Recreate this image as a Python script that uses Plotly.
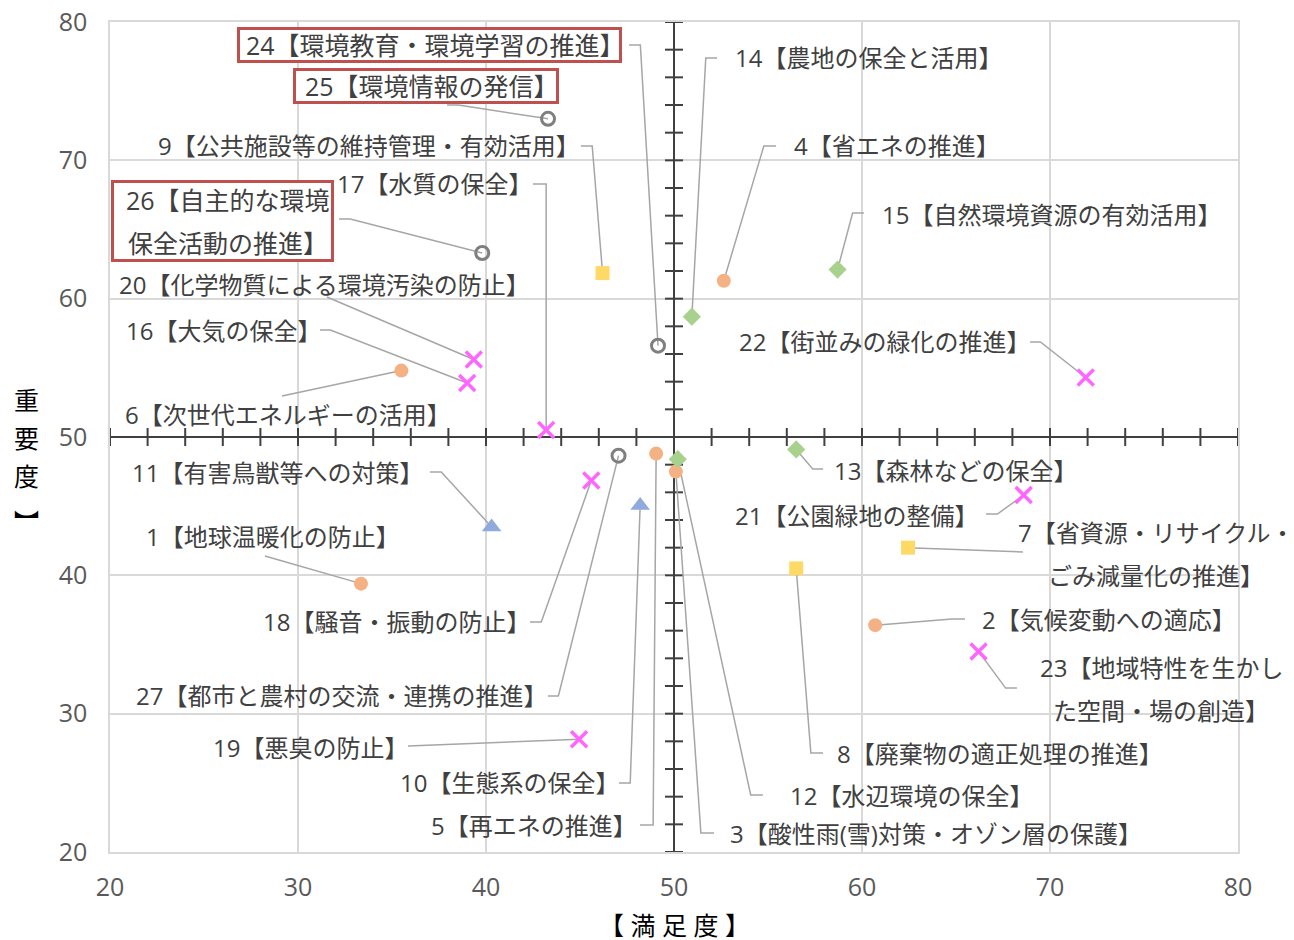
import plotly.graph_objects as go

# 施策番号と名称
item_no = list(range(1, 28))
item_name = [
    "地球温暖化の防止", "気候変動への適応", "酸性雨(雪)対策・オゾン層の保護",
    "省エネの推進", "再エネの推進", "次世代エネルギーの活用",
    "省資源・リサイクル・\nごみ減量化の推進", "廃棄物の適正処理の推進",
    "公共施設等の維持管理・有効活用", "生態系の保全", "有害鳥獣等への対策",
    "水辺環境の保全", "森林などの保全", "農地の保全と活用", "自然環境資源の有効活用",
    "大気の保全", "水質の保全", "騒音・振動の防止", "悪臭の防止",
    "化学物質による環境汚染の防止", "公園緑地の整備", "街並みの緑化の推進",
    "地域特性を生かし\nた空間・場の創造", "環境教育・環境学習の推進", "環境情報の発信",
    "自主的な環境\n保全活動の推進", "都市と農村の交流・連携の推進",
]

# 満足度 (x) / 重要度 (y)
satisfaction = [33.35, 60.7, 50.1, 52.65, 49.05, 35.5, 62.45, 56.5, 46.2, 48.2,
                40.3, 50.2, 56.5, 50.95, 58.7, 39.0, 43.2, 45.6, 44.95, 39.35,
                68.6, 71.9, 66.2, 49.15, 43.3, 39.8, 47.05]
importance = [39.4, 36.4, 47.5, 61.3, 48.8, 54.8, 42.0, 40.5, 61.85, 45.05,
              43.5, 48.4, 49.1, 58.7, 62.1, 53.9, 50.5, 46.85, 28.15, 55.6,
              45.8, 54.3, 34.5, 56.6, 73.0, 63.3, 48.65]

# 分野 (0:エネルギー 1:資源 2:生態系 3:自然 4:生活環境 5:参加)
category = [0, 0, 0, 0, 0, 0, 1, 1, 1, 2, 2, 3, 3, 3, 3,
            4, 4, 4, 4, 4, 4, 4, 4, 5, 5, 5, 5]

# ラベル位置と引き出し線
lab_x = [34.89, 66.28, 52.87, 56.28, 47.5, 20.69, 75.32, 58.56, 44.47, 46.54,
         36.12, 56.06, 58.4, 53.14, 60.96, 30.69, 41.91, 41.81, 35.32, 20.37,
         65.64, 68.4, 75.6, 37.02, 36.81, 25.96, 42.71]
lab_y = [42.84, 36.84, 21.37, 71.04, 21.95, 51.66, 41.54, 27.15, 71.04, 24.99,
         47.47, 24.12, 47.61, 77.4, 66.05, 57.73, 68.29, 36.63, 27.59, 61.06,
         44.36, 56.87, 31.75, 78.34, 75.37, 65.61, 31.28]
lab_anchor = ["right", "left", "left", "left", "right", "left", "center", "left",
              "right", "right", "right", "left", "left", "left", "left", "right",
              "right", "right", "right", "left", "right", "right", "center",
              "center", "center", "center", "right"]
lead_x = [28.24, 65.48, 52.13, 55.43, 48.19, 29.15, 68.56, 57.93, 45.05, 47.07,
          37.02, 54.73, 57.93, 52.29, 60.1, 31.17, 42.5, 42.34, 35.85, 31.54,
          66.6, 68.94, 68.24, 47.61, 37.93, 32.18, 43.3]
lead_y = [41.4, 36.84, 21.37, 71.04, 21.95, 52.96, 41.69, 27.15, 71.04, 24.99,
          47.47, 24.12, 47.69, 77.4, 66.19, 57.73, 68.29, 36.63, 27.66, 60.12,
          44.43, 56.87, 31.85, 78.34, 74.0, 65.76, 31.28]
stub_dx = [0, -0.7, -0.7, -0.65, 0.7, 0, 0, -0.65, 0.6, 0.6,
           0.6, -0.65, -0.55, -0.6, -0.6, 0.55, 0.7, 0.6, 0, 0,
           0.6, 0.55, -0.6, 0.6, 0.6, 0.6, 0.55]
boxed = {24: (385, 36), 25: (266, 36), 26: (223, 82)}

styles = [
    dict(symbol="circle", color="#F4B183", size=14),
    dict(symbol="square", color="#FFD966", size=14),
    dict(symbol="triangle-up", color="#8FAADC", size=17),
    dict(symbol="diamond", color="#A9D18E", size=14),
    dict(symbol="x-thin", color="#FF66FF", size=16),
    dict(symbol="circle-open", color="#7F7F7F", size=13),
]

FONT = "Open Sans, Noto Sans CJK JP, sans-serif"
fig = go.Figure()

# 引き出し線
lx, ly = [], []
for i in range(len(item_no)):
    lx += [lead_x[i], lead_x[i] + stub_dx[i], satisfaction[i], None]
    ly += [lead_y[i], lead_y[i], importance[i], None]
fig.add_trace(go.Scatter(x=lx, y=ly, mode="lines", hoverinfo="skip",
                         line=dict(color="#A6A6A6", width=1.5), showlegend=False))

for c, st in enumerate(styles):
    idx = [i for i in range(len(item_no)) if category[i] == c]
    mk = dict(symbol=st["symbol"], color=st["color"], size=st["size"])
    if st["symbol"] in ("x-thin", "circle-open"):
        mk["line"] = dict(color=st["color"], width=3.5 if c == 4 else 3)
    fig.add_trace(go.Scatter(
        x=[satisfaction[i] for i in idx], y=[importance[i] for i in idx],
        mode="markers", marker=mk, showlegend=False,
        text=[f"{item_no[i]}【{item_name[i]}】" for i in idx],
        hovertemplate="%{text}<br>満足度: %{x}<br>重要度: %{y}<extra></extra>"))

# 中央の軸と目盛り
shapes = [
    dict(type="line", xref="x", yref="y", x0=50, x1=50, y0=20, y1=80,
         line=dict(color="#404040", width=2), layer="between"),
    dict(type="line", xref="x", yref="y", x0=20, x1=80, y0=50, y1=50,
         line=dict(color="#404040", width=2), layer="between"),
]
for t in range(20, 81, 2):
    shapes.append(dict(type="line", xref="x", yref="y", x0=t, x1=t,
                       ysizemode="pixel", yanchor=50, y0=-9, y1=9,
                       line=dict(color="#404040", width=2), layer="between"))
    shapes.append(dict(type="line", xref="x", yref="y", y0=t, y1=t,
                       xsizemode="pixel", xanchor=50, x0=-9, x1=9,
                       line=dict(color="#404040", width=2), layer="between"))

# 全角括弧の余白分の補正
shift_for = {"right": 12, "center": 6, "left": 0}

annotations = []
for i in range(len(item_no)):
    no = item_no[i]
    lines = f"{no}【{item_name[i]}】".split("\n")
    size = 24
    if no in boxed:
        size = 25
        w, h = boxed[no]
        annotations.append(dict(x=lab_x[i], y=lab_y[i], xref="x", yref="y",
                                text=" ", showarrow=False, width=w - 8, height=h - 8,
                                bgcolor="white", bordercolor="#C0504D", borderwidth=3,
                                xanchor="center", yanchor="middle"))
    n = len(lines)
    for k, s in enumerate(lines):
        annotations.append(dict(x=lab_x[i], y=lab_y[i], xref="x", yref="y",
                                text=s, showarrow=False, xanchor=lab_anchor[i],
                                xshift=shift_for[lab_anchor[i]],
                                yanchor="middle", yshift=((n - 1) / 2 - k) * 43,
                                font=dict(family=FONT, size=size, color="#404040")))

# 軸タイトル
annotations.append(dict(x=0.5, y=-0.088, xref="paper", yref="paper",
                        xanchor="center", yanchor="middle",
                        text="【 満 足 度 】", showarrow=False,
                        font=dict(family=FONT, size=25, color="#000000")))
for k, ch in enumerate(["重", "要", "度", "︼"]):
    annotations.append(dict(x=-0.0736, y=0.5446 - k * 0.0455 - (0.01 if k == 3 else 0),
                            xref="paper", yref="paper", xanchor="center",
                            yanchor="middle", text=ch, showarrow=False,
                            font=dict(family=FONT, size=25, color="#000000")))

axis_common = dict(range=[20, 80], dtick=10, showgrid=True, gridcolor="#D9D9D9",
                   gridwidth=1.5, zeroline=False, showline=True, mirror=True,
                   linecolor="#D9D9D9", linewidth=1.5, ticks="", automargin=False,
                   ticklabeloverflow="allow",
                   tickfont=dict(family=FONT, size=25, color="#595959"))

# ページ本体の余白(8px)を差し引いた余白
fig.update_layout(
    width=1294, height=940,
    margin=dict(l=102, r=64, t=14, b=96),
    plot_bgcolor="white", paper_bgcolor="white",
    xaxis=dict(**axis_common, ticklabelstandoff=12),
    yaxis=dict(**axis_common, ticklabelstandoff=16),
    shapes=shapes, annotations=annotations,
    showlegend=False,
)

fig.write_html("out.html")
